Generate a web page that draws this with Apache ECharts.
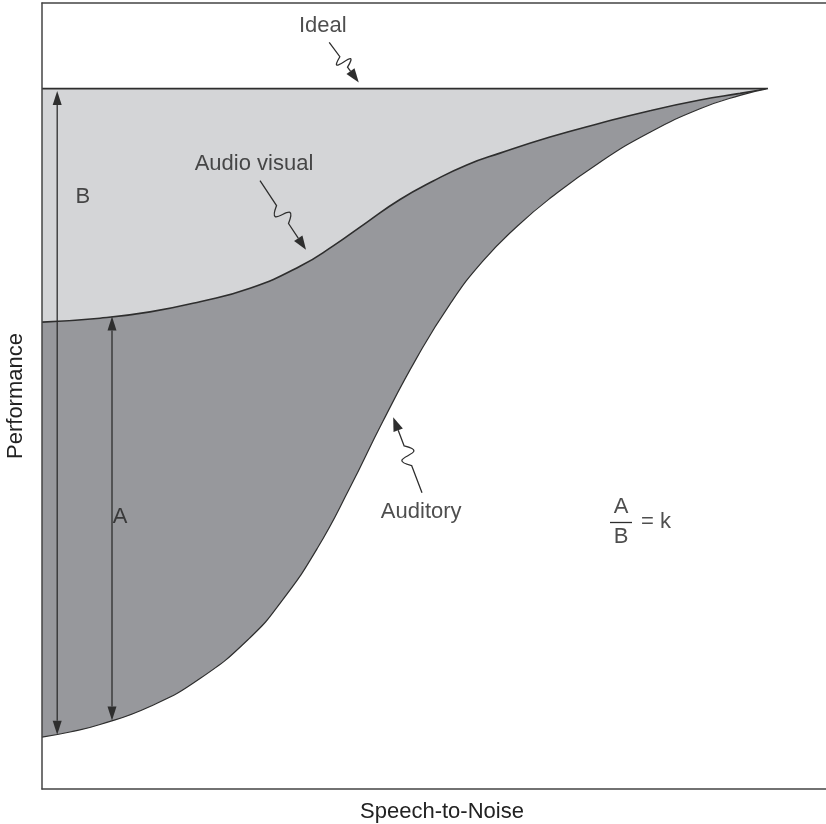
<!DOCTYPE html>
<html>
<head>
<meta charset="utf-8">
<script src="https://cdn.jsdelivr.net/npm/echarts@6/dist/echarts.min.js"></script>
<style>
  html, body {margin: 0; padding: 0; background: #fff;}
  #chart {width: 826px; height: 824px;}
</style>
</head>
<body>
<div id="chart"></div>
<script>
// curves: [speech-to-noise, performance], both on a 0..100 scale
const idealCurve = [[0, 89.1], [90.75, 89.1]];
const audioVisualCurve = [
  [0, 59.4], [7.25, 59.9], [13.5, 60.7], [19.75, 62.0], [26.0, 63.7], [32.25, 66.5],
  [36.4, 69.1], [40.6, 72.1], [44.75, 75.0], [48.9, 77.35], [53.1, 79.4], [57.25, 80.9],
  [63.5, 82.95], [69.75, 84.7], [76.0, 86.3], [82.25, 87.65], [87.25, 88.5], [90.75, 89.1]
];
const auditoryCurve = [
  [0, 6.6], [3.5, 7.25], [7.25, 8.2], [13.5, 10.5], [19.75, 14.05], [26.0, 19.25],
  [30.1, 24.1], [34.4, 30.6], [38.5, 38.35], [42.6, 46.75], [46.9, 54.95], [51.0, 61.7],
  [55.1, 67.15], [59.4, 71.6], [63.5, 75.15], [69.75, 79.75], [76.0, 83.55], [82.25, 86.55],
  [87.25, 88.25], [90.75, 89.1]
];

// text annotations: [x, y, text]
const labels = [
  [35.1, 97.1, 'Ideal'],
  [26.5, 79.5, 'Audio visual'],
  [47.4, 35.2, 'Auditory'],
  [5.1, 75.3, 'B'],
  [9.75, 34.6, 'A'],
  [72.4, 35.9, 'A'],
  [72.4, 32.1, 'B'],
  [76.75, 34.0, '= k']
];
// fraction bar of A/B
const fractionBar = [[71.0, 34.0], [73.75, 34.0]];

// arrows: [x0, y0, x1, y1, wiggle, both ends]
const arrows = [
  [35.9, 95.0, 39.6, 89.9, 1, 0],
  [27.25, 77.4, 33.0, 68.6, 1, 0],
  [47.5, 37.7, 43.9, 47.3, -1, 0],
  [1.9, 6.9, 1.9, 88.8, 0, 1],
  [8.75, 8.7, 8.75, 60.1, 0, 1]
];

const ink = '#2e2e2e';
const font = '"Liberation Sans", Arial, sans-serif';
const fs = 22;

const chart = echarts.init(document.getElementById('chart'), null, {renderer: 'canvas'});

function head(tip, from, len, half) {
  const dx = tip[0] - from[0], dy = tip[1] - from[1];
  const l = Math.sqrt(dx * dx + dy * dy) || 1;
  const ux = dx / l, uy = dy / l;
  const bx = tip[0] - ux * len, by = tip[1] - uy * len;
  return {
    type: 'polygon',
    shape: {points: [tip, [bx - uy * half, by + ux * half], [bx + uy * half, by - ux * half]]},
    style: {fill: ink}
  };
}

function renderArrow(params, api) {
  const p0 = api.coord([api.value(0), api.value(1)]);
  const p1 = api.coord([api.value(2), api.value(3)]);
  const wiggle = api.value(4);
  const both = api.value(5);
  const dx = p1[0] - p0[0], dy = p1[1] - p0[1];
  const L = Math.sqrt(dx * dx + dy * dy);
  const ux = dx / L, uy = dy / L;
  const nx = -uy, ny = ux;
  const children = [];
  const hl = 14, hw = 4.5;
  if (!wiggle) {
    const s = both ? [p0[0] + ux * hl, p0[1] + uy * hl] : p0;
    const e = [p1[0] - ux * hl, p1[1] - uy * hl];
    children.push({
      type: 'line',
      shape: {x1: s[0], y1: s[1], x2: e[0], y2: e[1]},
      style: {stroke: ink, lineWidth: 1.3}
    });
    children.push(head(p1, p0, hl, hw));
    if (both) children.push(head(p0, p1, hl, hw));
  } else {
    // the little S-bend in the pointer
    const c = 26 * wiggle;
    const pt = (t, off) => [p0[0] + dx * t + nx * off, p0[1] + dy * t + ny * off];
    const A = pt(0.36, 0), B = pt(0.62, 0);
    const c1 = pt(0.58, c), c2 = pt(0.40, -c);
    const e = [p1[0] - ux * hl, p1[1] - uy * hl];
    const d = 'M' + p0[0] + ' ' + p0[1] + ' L' + A[0] + ' ' + A[1] +
      ' C' + c1[0] + ' ' + c1[1] + ' ' + c2[0] + ' ' + c2[1] + ' ' + B[0] + ' ' + B[1] +
      ' L' + e[0] + ' ' + e[1];
    children.push({
      type: 'path',
      shape: {pathData: d},
      style: {stroke: ink, lineWidth: 1.3, fill: null}
    });
    children.push(head(p1, B, hl, hw + 0.5));
  }
  return {type: 'group', children: children};
}

const axisBase = {
  type: 'value', min: 0, max: 100, z: 10,
  axisLine: {show: true, lineStyle: {color: '#444', width: 1.5}},
  axisTick: {show: false}, axisLabel: {show: false}, splitLine: {show: false}
};

const option = {
  animation: false,
  grid: {left: 42, right: -16, top: 3, bottom: 35, containLabel: false, outerBoundsMode: 'none'},
  xAxis: [
    Object.assign({}, axisBase, {
      position: 'bottom',
      name: 'Speech-to-Noise', nameLocation: 'middle', nameGap: 12,
      nameTextStyle: {color: '#222', fontSize: fs, fontFamily: font}
    }),
    Object.assign({}, axisBase, {position: 'top'})
  ],
  yAxis: Object.assign({}, axisBase, {
    name: 'Performance', nameLocation: 'middle', nameGap: 15,
    nameTextStyle: {color: '#222', fontSize: fs, fontFamily: font}
  }),
  series: [
    {
      name: 'Ideal', type: 'line', data: idealCurve, symbol: 'none',
      lineStyle: {color: ink, width: 1.6},
      areaStyle: {color: '#d4d5d7', opacity: 1}, z: 2
    },
    {
      name: 'Audio visual', type: 'line', data: audioVisualCurve, symbol: 'none',
      smooth: true,
      lineStyle: {color: ink, width: 1.6},
      areaStyle: {color: '#97989c', opacity: 1}, z: 3
    },
    {
      name: 'Auditory', type: 'line', data: auditoryCurve, symbol: 'none',
      smooth: true,
      lineStyle: {color: ink, width: 1.2},
      areaStyle: {color: '#ffffff', opacity: 1}, z: 4
    },
    {
      type: 'custom', renderItem: renderArrow, data: arrows, z: 6,
      encode: {x: [0, 2], y: [1, 3]}, silent: true
    },
    {
      type: 'scatter', symbolSize: 0, z: 7, silent: true,
      data: labels.map(l => ({value: [l[0], l[1]], name: l[2]})),
      label: {
        show: true, position: 'inside', formatter: p => p.name,
        color: '#222', fontSize: fs, fontFamily: font
      },
      markLine: {
        silent: true, symbol: 'none', label: {show: false},
        lineStyle: {color: ink, width: 1.3, type: 'solid'},
        data: [[{coord: fractionBar[0]}, {coord: fractionBar[1]}]]
      }
    }
  ]
};

chart.setOption(option);
</script>
</body>
</html>
